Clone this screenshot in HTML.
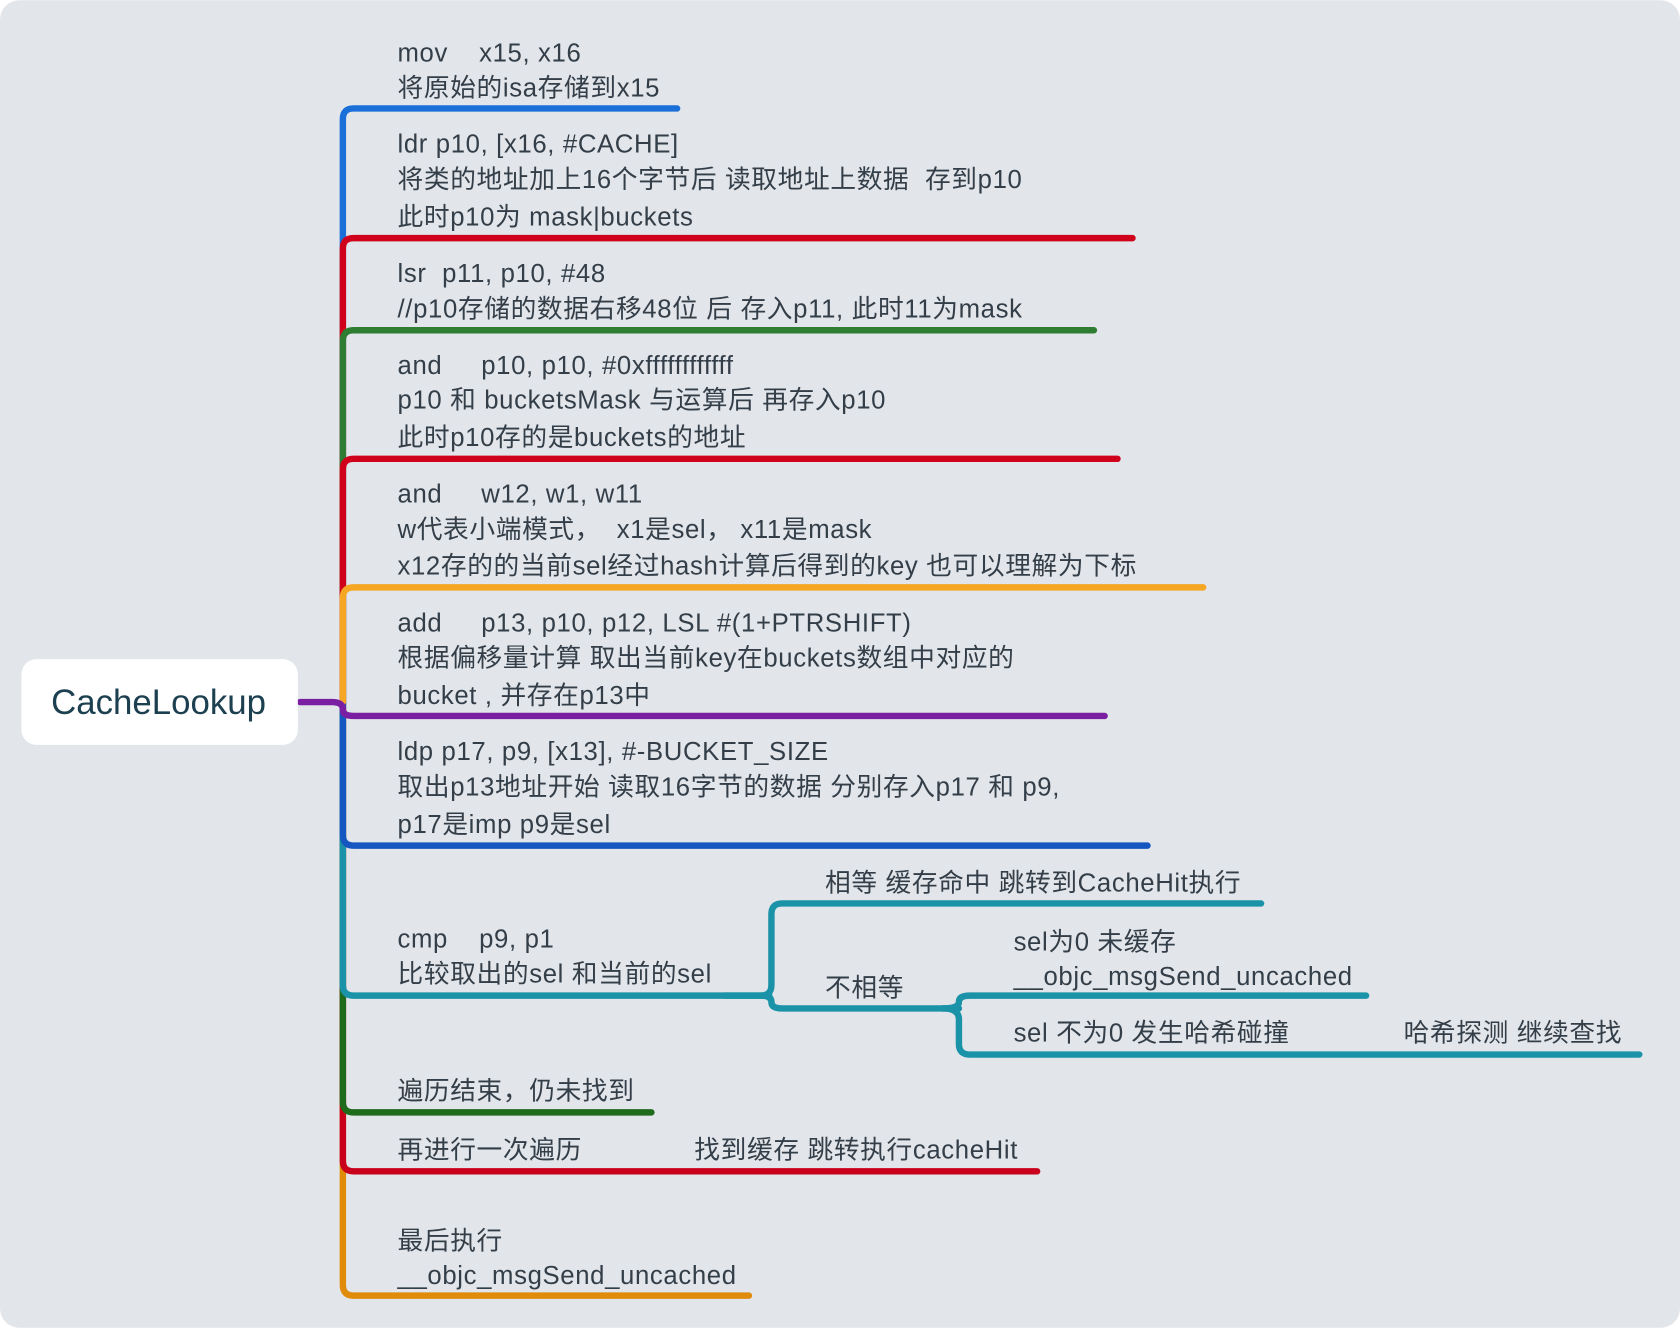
<!DOCTYPE html>
<html><head><meta charset="utf-8"><style>
html,body{margin:0;padding:0;background:#fff;}
svg{display:block;}
text{font-family:"Liberation Sans","Noto Sans CJK SC",sans-serif;font-size:24px;letter-spacing:0.6px;fill:#333e48;}
</style></head><body>
<svg width="1680" height="1328" viewBox="0 0 1568 1239" xmlns="http://www.w3.org/2000/svg">
<rect x="0" y="0" width="1568" height="1239" rx="18" fill="#e2e5ea"/>
<g fill="none" stroke-width="6" stroke-linecap="round">
<path d="M320 655 V1199 Q320 1209 330 1209 H699" stroke="#e08c0a"/>
<path d="M320 655 V111 Q320 101 330 101 H632" stroke="#1a6fd8"/>
<path d="M320 655 V1083 Q320 1093 330 1093 H968" stroke="#c8001b"/>
<path d="M320 655 V232 Q320 222 330 222 H1057" stroke="#d0021b"/>
<path d="M320 655 V1028 Q320 1038 330 1038 H608" stroke="#1f6b1c"/>
<path d="M320 655 V318 Q320 308 330 308 H1021" stroke="#2e7d32"/>
<path d="M320 655 V919 Q320 929 330 929 H718" stroke="#1a93a8"/>
<path d="M320 655 V438 Q320 428 330 428 H1043" stroke="#d0021b"/>
<path d="M320 655 V779 Q320 789 330 789 H1071" stroke="#1656c0"/>
<path d="M320 655 V558 Q320 548 330 548 H1123" stroke="#f5a623"/>
<path d="M280 655 H310 Q320 655 320 662 Q320 668 330 668 H1031" stroke="#7b1fa2"/>
<path d="M676 929 H710 Q720 929 720 919 V853 Q720 843 730 843 H1177" stroke="#1a93a8"/>
<path d="M710 929 Q720 929 720 935 Q720 941 730 941 H895" stroke="#1a93a8"/>
<path d="M880 941 Q895 941 895 935 Q895 929 905 929 H1275" stroke="#1a93a8"/>
<path d="M880 941 Q895 941 895 951 V974 Q895 984 905 984 H1530" stroke="#1a93a8"/>
</g>
<rect x="20" y="615" width="258" height="80" rx="14" fill="#fff"/>
<text x="148" y="666" text-anchor="middle" style="font-size:32.5px;letter-spacing:0;fill:#1c4050">CacheLookup</text>
<g>
<text x="371" y="57">mov&#160;&#160;&#160;&#160;x15, x16</text>
<text x="371" y="90">将原始的isa存储到x15</text>
<text x="371" y="142">ldr p10, [x16, #CACHE]</text>
<text x="371" y="175">将类的地址加上16个字节后 读取地址上数据&#160;&#160;存到p10</text>
<text x="371" y="210">此时p10为 mask|buckets</text>
<text x="371" y="263">lsr&#160;&#160;p11, p10, #48</text>
<text x="371" y="296">//p10存储的数据右移48位 后 存入p11, 此时11为mask</text>
<text x="371" y="349">and&#160;&#160;&#160;&#160;&#160;p10, p10, #0xffffffffffff</text>
<text x="371" y="381">p10 和 bucketsMask 与运算后 再存入p10</text>
<text x="371" y="416">此时p10存的是buckets的地址</text>
<text x="371" y="469">and&#160;&#160;&#160;&#160;&#160;w12, w1, w11</text>
<text x="371" y="502">w代表小端模式，&#160;&#160;x1是sel，&#160;x11是mask</text>
<text x="371" y="536">x12存的的当前sel经过hash计算后得到的key 也可以理解为下标</text>
<text x="371" y="589">add&#160;&#160;&#160;&#160;&#160;p13, p10, p12, LSL #(1+PTRSHIFT)</text>
<text x="371" y="622">根据偏移量计算 取出当前key在buckets数组中对应的</text>
<text x="371" y="657">bucket , 并存在p13中</text>
<text x="371" y="709">ldp p17, p9, [x13], #-BUCKET_SIZE</text>
<text x="371" y="742">取出p13地址开始 读取16字节的数据 分别存入p17 和 p9,</text>
<text x="371" y="777">p17是imp p9是sel</text>
<text x="371" y="884">cmp&#160;&#160;&#160;&#160;p9, p1</text>
<text x="371" y="917">比较取出的sel 和当前的sel</text>
<text x="770" y="832">相等 缓存命中 跳转到CacheHit执行</text>
<text x="770" y="930">不相等</text>
<text x="946" y="887">sel为0 未缓存</text>
<text x="946" y="919">__objc_msgSend_uncached</text>
<text x="946" y="972">sel 不为0 发生哈希碰撞</text>
<text x="1310" y="972">哈希探测 继续查找</text>
<text x="371" y="1026">遍历结束，仍未找到</text>
<text x="371" y="1081">再进行一次遍历</text>
<text x="648" y="1081">找到缓存 跳转执行cacheHit</text>
<text x="371" y="1166">最后执行</text>
<text x="371" y="1198">__objc_msgSend_uncached</text>
</g>
</svg>
</body></html>
